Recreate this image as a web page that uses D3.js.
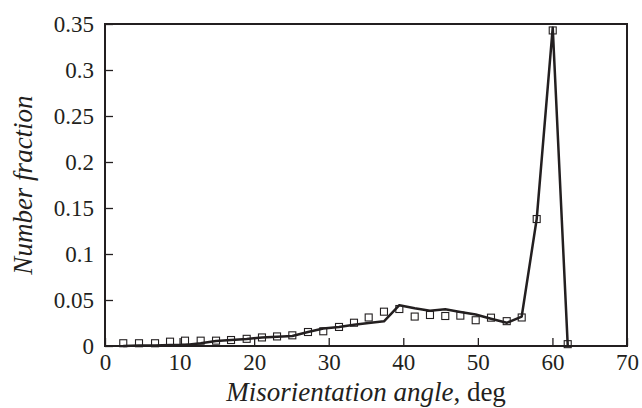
<!DOCTYPE html>
<html>
<head>
<meta charset="utf-8">
<script src="https://cdn.jsdelivr.net/npm/d3@7"></script>
<style>
  body { margin: 0; background: #fff; }
  svg text { font-family: "Liberation Serif", "Times New Roman", serif; fill: #231f20; }
</style>
</head>
<body>
<svg width="642" height="408"></svg>
<script>
// misorientation angle (deg) of each bin
const angles = [2.45, 4.56, 6.71, 8.72, 10.73, 12.83, 14.89, 16.9, 19.0, 21.05,
  23.07, 25.12, 27.22, 29.27, 31.38, 33.39, 35.36, 37.41, 39.47, 41.53,
  43.58, 45.63, 47.65, 49.71, 51.76, 53.87, 55.88, 57.89, 60.04, 62.05];
// measured fractions (squares)
const measured = [0.003, 0.003, 0.003, 0.0047, 0.0058, 0.0058, 0.0058, 0.0065, 0.0078, 0.0093,
  0.0104, 0.0116, 0.0152, 0.016, 0.0207, 0.0253, 0.031, 0.0373, 0.0402, 0.032,
  0.0337, 0.0326, 0.033, 0.028, 0.0308, 0.027, 0.031, 0.138, 0.343, 0.002];
// calculated fractions (solid line)
const calculated = [0.0, 0.0005, 0.0005, 0.001, 0.001, 0.003, 0.0054, 0.0065, 0.0076, 0.0092,
  0.0101, 0.0109, 0.0152, 0.019, 0.0207, 0.0232, 0.025, 0.0268, 0.0444, 0.041,
  0.0383, 0.0399, 0.037, 0.0342, 0.0297, 0.0252, 0.032, 0.138, 0.346, 0.001];

const xTicks = [0, 10, 20, 30, 40, 50, 60, 70];
const yTicks = [0, 0.05, 0.1, 0.15, 0.2, 0.25, 0.3, 0.35];
const yTickLabels = ["0", "0.05", "0.1", "0.15", "0.2", "0.25", "0.3", "0.35"];

const margin = {top: 24, right: 15, bottom: 62, left: 105};
const width = 642 - margin.left - margin.right,
      height = 408 - margin.top - margin.bottom;
const ink = "#231f20";

const svg = d3.select("svg");
const g = svg.append("g")
    .attr("transform", `translate(${margin.left},${margin.top})`);

const x = d3.scaleLinear().domain([0, 70]).range([0, width]);
const y = d3.scaleLinear().domain([0, 0.35]).range([height, 0]);

// inward ticks, labels outside
const xAxis = g.append("g")
    .attr("transform", `translate(0,${height})`)
    .call(d3.axisBottom(x).tickValues(xTicks).tickSizeInner(-8).tickSizeOuter(0).tickPadding(8));
const yAxis = g.append("g")
    .call(d3.axisLeft(y).tickValues(yTicks).tickSizeInner(-8).tickSizeOuter(0).tickPadding(11)
      .tickFormat((d, i) => yTickLabels[i]));

[xAxis, yAxis].forEach(a => {
  a.select(".domain").remove();
  a.selectAll("line").attr("stroke", ink).attr("stroke-width", 1.3);
  a.selectAll("text").attr("font-size", 23).attr("fill", ink)
    .style("font-family", '"Liberation Serif", serif');
});

// frame
g.append("rect")
    .attr("width", width)
    .attr("height", height)
    .attr("fill", "none")
    .attr("stroke", ink)
    .attr("stroke-width", 2);

const pts = angles.map((a, i) => ({a: a, m: measured[i], c: calculated[i]}));

const line = d3.line()
    .x(d => x(d.a))
    .y(d => y(d.c));

g.append("path")
    .datum(pts)
    .attr("fill", "none")
    .attr("stroke", ink)
    .attr("stroke-width", 2.5)
    .attr("stroke-linejoin", "round")
    .attr("d", line);

const s = 7;
g.selectAll("rect.pt")
  .data(pts)
  .join("rect")
    .attr("class", "pt")
    .attr("x", d => x(d.a) - s / 2)
    .attr("y", d => y(d.m) - s / 2)
    .attr("width", s)
    .attr("height", s)
    .attr("fill", "none")
    .attr("stroke", ink)
    .attr("stroke-width", 1.1);

// axis titles
const xt = svg.append("text")
    .attr("x", margin.left + width / 2)
    .attr("y", 401)
    .attr("text-anchor", "middle")
    .attr("font-size", 27);
xt.append("tspan").attr("font-style", "italic").text("Misorientation angle");
xt.append("tspan").text(", deg");

svg.append("text")
    .attr("transform", `translate(32,${margin.top + height / 2}) rotate(-90)`)
    .attr("text-anchor", "middle")
    .attr("font-size", 27)
    .attr("font-style", "italic")
    .text("Number fraction");
</script>
</body>
</html>
